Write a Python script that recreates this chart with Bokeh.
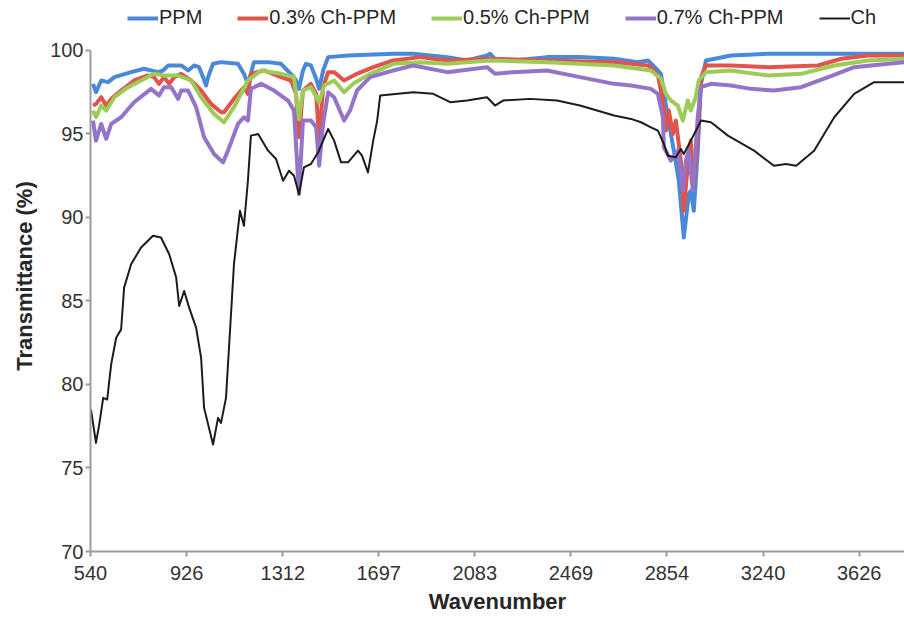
from bokeh.plotting import figure
from bokeh.models import Legend, LegendItem, FixedTicker
from bokeh.embed import file_html
from bokeh.resources import INLINE

# ---- data ----
series_names = ["PPM", "0.3% Ch-PPM", "0.5% Ch-PPM", "0.7% Ch-PPM", "Ch"]
series_colors = ["#4a89da", "#e0544b", "#9ccb58", "#9474c8", "#1c1c1c"]

ppm_x = [550, 562, 583, 611, 636, 703, 755, 811, 831, 852, 904, 932, 956, 976, 992, 1004, 1012, 1032,
         1064, 1132, 1156, 1172, 1184, 1196, 1253, 1305, 1337, 1357, 1365, 1377, 1393, 1405, 1425, 1446,
         1458, 1474, 1494, 1574, 1755, 1836, 1972, 2052, 2132, 2144, 2164, 2236, 2373, 2505, 2642, 2738,
         2778, 2818, 2830, 2858, 2882, 2902, 2922, 2942, 2950, 2962, 2978, 2991, 3011, 3112, 3260, 3526, 3808]
ppm_y = [98.0, 97.5, 98.2, 98.1, 98.4, 98.7, 98.9, 98.7, 98.8, 99.1, 99.1, 98.8, 99.1, 99.0, 98.4, 97.9, 98.4, 99.2,
         99.3, 99.2, 98.6, 98.0, 98.6, 99.3, 99.3, 99.2, 98.7, 98.4, 98.2, 97.7, 98.8, 99.2, 99.1, 98.3,
         97.7, 98.8, 99.6, 99.7, 99.8, 99.8, 99.6, 99.4, 99.7, 99.8, 99.5, 99.4, 99.6, 99.6, 99.5, 99.3,
         99.4, 98.8, 98.6, 96.0, 94.0, 92.2, 88.8, 91.4, 91.6, 90.4, 94.0, 98.0, 99.4, 99.7, 99.8, 99.8, 99.8]

ch03_x = [550, 562, 583, 603, 623, 663, 715, 771, 795, 815, 835, 856, 876, 904, 944, 984, 1024, 1064, 1076,
          1116, 1156, 1172, 1184, 1237, 1305, 1345, 1365, 1377, 1393, 1425, 1446, 1458, 1474, 1494, 1518,
          1558, 1610, 1675, 1755, 1864, 1972, 2144, 2373, 2642, 2710, 2778, 2790, 2818, 2838, 2850, 2862,
          2878, 2890, 2910, 2922, 2938, 2950, 2962, 2978, 2991, 3011, 3112, 3260, 3461, 3554, 3662, 3808]
ch03_y = [96.7, 96.8, 97.2, 96.7, 97.1, 97.6, 98.2, 98.5, 98.4, 98.0, 98.4, 98.0, 98.4, 98.6, 98.2, 97.6, 96.8, 96.3, 96.3,
          97.1, 97.8, 97.4, 98.6, 98.8, 98.4, 98.2, 97.4, 94.8, 97.6, 98.0, 97.4, 94.6, 97.8, 98.7, 98.7,
          98.2, 98.6, 99.0, 99.4, 99.6, 99.4, 99.5, 99.4, 99.3, 99.2, 99.1, 99.0, 98.5, 97.0, 95.2, 96.4,
          95.0, 95.8, 93.4, 90.4, 93.2, 94.6, 92.0, 95.0, 98.4, 99.1, 99.1, 99.0, 99.1, 99.5, 99.7, 99.7]

ch05_x = [550, 562, 583, 603, 636, 691, 743, 795, 835, 892, 944, 984, 1036, 1076, 1116, 1172, 1225, 1305,
          1357, 1377, 1393, 1425, 1458, 1478, 1518, 1558, 1594, 1663, 1755, 1864, 1972, 2144, 2373, 2642,
          2790, 2830, 2850, 2870, 2898, 2918, 2938, 2950, 2970, 2982, 3011, 3112, 3260, 3393, 3526, 3662, 3808]
ch05_y = [96.4, 96.0, 96.7, 96.4, 97.2, 97.8, 98.2, 98.6, 98.5, 98.5, 98.2, 97.2, 96.2, 95.7, 96.6, 98.2, 98.8, 98.6,
          98.4, 95.9, 97.6, 97.8, 96.9, 97.9, 98.2, 97.5, 98.0, 98.6, 99.2, 99.3, 99.2, 99.4, 99.3, 99.1,
          98.8, 98.3, 97.4, 97.0, 96.7, 95.8, 97.0, 96.4, 97.2, 98.2, 98.7, 98.8, 98.5, 98.6, 99.1, 99.4, 99.5]

ch07_x = [550, 562, 583, 603, 623, 663, 715, 783, 815, 835, 864, 892, 904, 932, 964, 996, 1036, 1072, 1092,
          1132, 1156, 1172, 1184, 1225, 1277, 1333, 1357, 1377, 1393, 1425, 1446, 1458, 1474, 1494, 1518,
          1558, 1582, 1610, 1663, 1755, 1836, 1972, 2132, 2164, 2236, 2373, 2505, 2642, 2710, 2790, 2818,
          2838, 2842, 2870, 2898, 2918, 2930, 2942, 2958, 2978, 2991, 3031, 3112, 3192, 3284, 3393, 3502,
          3606, 3742, 3808]
ch07_y = [95.8, 94.6, 95.6, 94.7, 95.6, 96.0, 96.9, 97.7, 97.3, 97.8, 97.8, 97.1, 97.6, 97.6, 96.6, 94.8, 93.8, 93.3, 94.0,
          95.6, 96.0, 95.8, 97.7, 98.0, 97.6, 97.0, 96.4, 91.4, 95.8, 95.8, 95.4, 93.1, 95.6, 97.5, 97.2,
          95.8, 96.4, 97.6, 98.4, 98.8, 99.1, 98.7, 99.0, 98.6, 98.7, 98.8, 98.4, 98.0, 97.9, 97.7, 97.4,
          96.0, 94.2, 93.4, 94.0, 91.6, 93.4, 94.0, 91.6, 96.0, 97.8, 98.0, 97.9, 97.7, 97.6, 97.8, 98.4,
          99.0, 99.2, 99.3]

ch_x = [542, 562, 575, 591, 607, 623, 643, 663, 675, 703, 743, 791, 823, 856, 884, 896, 916, 936, 964, 984,
        996, 1032, 1052, 1064, 1084, 1096, 1116, 1140, 1156, 1172, 1184, 1213, 1253, 1285, 1313, 1337, 1357,
        1377, 1397, 1425, 1454, 1494, 1518, 1546, 1574, 1614, 1630, 1654, 1675, 1691, 1703, 1836, 1916,
        1984, 2052, 2132, 2164, 2196, 2305, 2413, 2505, 2642, 2710, 2750, 2790, 2818, 2842, 2858, 2890,
        2910, 2922, 2950, 2991, 3031, 3099, 3204, 3284, 3332, 3373, 3445, 3526, 3606, 3686, 3808]
ch_y = [78.5, 76.5, 77.6, 79.2, 79.1, 81.2, 82.8, 83.3, 85.8, 87.2, 88.2, 88.9, 88.8, 87.8, 86.4, 84.7, 85.6, 84.6, 83.4, 81.6,
        78.6, 76.4, 78.0, 77.7, 79.2, 82.2, 87.2, 90.4, 89.5, 92.2, 94.9, 95.0, 94.0, 93.5, 92.2, 92.8, 92.5,
        91.4, 93.0, 93.2, 93.9, 95.3, 94.6, 93.3, 93.3, 94.0, 93.7, 92.7, 94.6, 95.8, 97.3, 97.5, 97.4,
        96.9, 97.0, 97.2, 96.7, 97.0, 97.1, 97.0, 96.7, 96.1, 95.9, 95.7, 95.4, 95.2, 94.4, 93.7, 93.6,
        94.1, 93.8, 94.6, 95.8, 95.7, 94.9, 94.0, 93.1, 93.2, 93.1, 94.0, 96.0, 97.4, 98.1, 98.1]

x_ticks = [540, 926, 1312, 1697, 2083, 2469, 2854, 3240, 3626]
x_tick_labels = ["540", "926", "1312", "1697", "2083", "2469", "2854", "3240", "3626"]
y_ticks = [70, 75, 80, 85, 90, 95, 100]

xs = [ppm_x, ch03_x, ch05_x, ch07_x, ch_x]
ys = [ppm_y, ch03_y, ch05_y, ch07_y, ch_y]
widths = [4, 4, 4, 4, 2]

FONT = "Liberation Sans"

# frame extends up to the top of the canvas so the legend can sit above the
# 100 % line; the y axis line itself is bounded to 70..100
p = figure(width=904, height=618, output_backend="svg", toolbar_location=None,
           x_range=(540, 3808), y_range=(70, 102.99),
           min_border_left=90, min_border_right=0, min_border_top=0, min_border_bottom=67)
p.outline_line_color = None
p.grid.visible = False

items = []
for name, color, x, y, w in zip(series_names, series_colors, xs, ys, widths):
    r = p.line(x, y, line_color=color, line_width=w, line_join="round")
    items.append(LegendItem(label=name, renderers=[r]))

legend = Legend(items=items, orientation="horizontal", location=(37, 522),
                border_line_color=None, background_fill_alpha=0,
                padding=0, margin=0, spacing=35, glyph_width=31, glyph_height=22,
                label_standoff=1, label_text_font=FONT, label_text_font_size="20px",
                label_text_color="#262626", label_height=22)
p.add_layout(legend, "center")

for ax in (p.xaxis[0], p.yaxis[0]):
    ax.axis_line_color = "#9c9c9c"
    ax.axis_line_width = 2
    ax.major_tick_line_color = "#9c9c9c"
    ax.major_tick_line_width = 2
    ax.major_tick_in = 0
    ax.major_tick_out = 5
    ax.minor_tick_line_color = None
    ax.major_label_text_font = FONT
    ax.major_label_text_font_size = "20px"
    ax.major_label_text_color = "#333333"
    ax.axis_label_text_font = FONT
    ax.axis_label_text_font_size = "22px"
    ax.axis_label_text_font_style = "bold"
    ax.axis_label_text_color = "#262626"

p.xaxis.ticker = FixedTicker(ticks=x_ticks)
p.xaxis.major_label_overrides = {t: l for t, l in zip(x_ticks, x_tick_labels)}
p.xaxis.major_label_standoff = 9
p.xaxis.axis_label = "Wavenumber"
p.xaxis.axis_label_standoff = 6

p.yaxis.ticker = FixedTicker(ticks=y_ticks)
p.yaxis.bounds = (70, 100)
p.yaxis.major_label_standoff = 2
p.yaxis.axis_label = "Transmittance (%)"
p.yaxis.axis_label_standoff = 10

open("out.html", "w").write(file_html(p, INLINE))
